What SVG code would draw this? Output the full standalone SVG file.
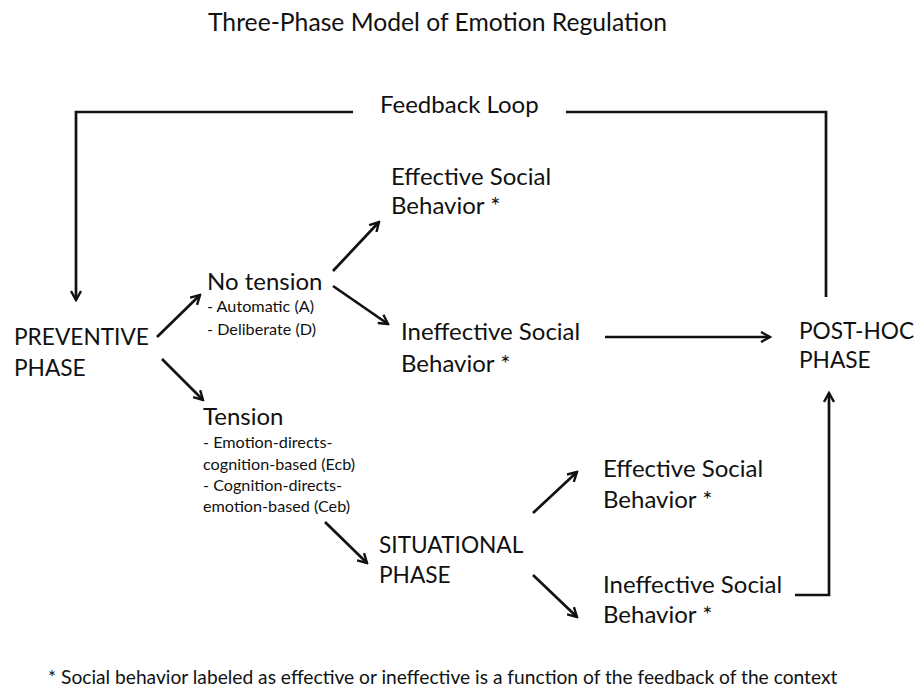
<svg xmlns="http://www.w3.org/2000/svg" width="917" height="688" viewBox="0 0 917 688">
  <defs>
    <style>
      text { font-family: Lato, "Liberation Sans", sans-serif; fill: #111; }
      .main { font-size: 24px; }
      .caps { font-size: 22.7px; }
      .sub { font-size: 16.2px; }
      .title { font-size: 24.7px; }
      .note { font-size: 19.2px; }
      .conn { stroke: #111; stroke-width: 2.7; fill: none; }
    </style>
    <marker id="arr" viewBox="0 0 12 12" refX="10" refY="6" markerWidth="12" markerHeight="12" markerUnits="userSpaceOnUse" orient="auto">
      <path d="M1,1 L10,6 L1,11" fill="none" stroke="#111" stroke-width="2.4"/>
    </marker>
  </defs>
  <rect width="917" height="688" fill="#fff"/>

  <text class="title" x="208" y="31">Three-Phase Model of Emotion Regulation</text>

  <g id="connectors">
    <path class="conn" d="M353,112 H76 V300" marker-end="url(#arr)"/>
    <path class="conn" d="M566,112 H826 V297"/>
    <path class="conn" d="M157,337 L200,295" marker-end="url(#arr)"/>
    <path class="conn" d="M162,359 L203,400" marker-end="url(#arr)"/>
    <path class="conn" d="M333,271 L379,222" marker-end="url(#arr)"/>
    <path class="conn" d="M333,286 L388,324" marker-end="url(#arr)"/>
    <path class="conn" d="M605,337 L770,337" marker-end="url(#arr)"/>
    <path class="conn" d="M325,522 L367,563" marker-end="url(#arr)"/>
    <path class="conn" d="M533,513 L577,472" marker-end="url(#arr)"/>
    <path class="conn" d="M533,575 L577,617" marker-end="url(#arr)"/>
    <path class="conn" d="M795,595 H829 V393" marker-end="url(#arr)"/>
  </g>

  <g id="feedback-loop">
    <text class="main" x="380" y="113">Feedback Loop</text>
  </g>
  <g id="preventive">
    <text class="caps" x="14" y="345">PREVENTIVE</text>
    <text class="caps" x="14" y="376">PHASE</text>
  </g>
  <g id="no-tension">
    <text class="main" x="207" y="290">No tension</text>
    <text class="sub" x="207" y="312">- Automatic (A)</text>
    <text class="sub" x="207" y="335">- Deliberate (D)</text>
  </g>
  <g id="effective-1">
    <text class="main" x="391" y="185">Effective Social</text>
    <text class="main" x="391" y="214">Behavior *</text>
  </g>
  <g id="ineffective-1">
    <text class="main" x="401" y="340">Ineffective Social</text>
    <text class="main" x="401" y="372">Behavior *</text>
  </g>
  <g id="post-hoc">
    <text class="caps" x="799" y="339">POST-HOC</text>
    <text class="caps" x="799" y="368">PHASE</text>
  </g>
  <g id="tension">
    <text class="main" x="203" y="425">Tension</text>
    <text class="sub" x="203" y="448">- Emotion-directs-</text>
    <text class="sub" x="203" y="470">cognition-based (Ecb)</text>
    <text class="sub" x="203" y="491">- Cognition-directs-</text>
    <text class="sub" x="203" y="512">emotion-based (Ceb)</text>
  </g>
  <g id="situational">
    <text class="caps" x="379" y="553">SITUATIONAL</text>
    <text class="caps" x="379" y="583">PHASE</text>
  </g>
  <g id="effective-2">
    <text class="main" x="603" y="477">Effective Social</text>
    <text class="main" x="603" y="508">Behavior *</text>
  </g>
  <g id="ineffective-2">
    <text class="main" x="603" y="593">Ineffective Social</text>
    <text class="main" x="603" y="623">Behavior *</text>
  </g>

  <text class="note" x="48" y="684">* Social behavior labeled as effective or ineffective is a function of the feedback of the context</text>
</svg>
